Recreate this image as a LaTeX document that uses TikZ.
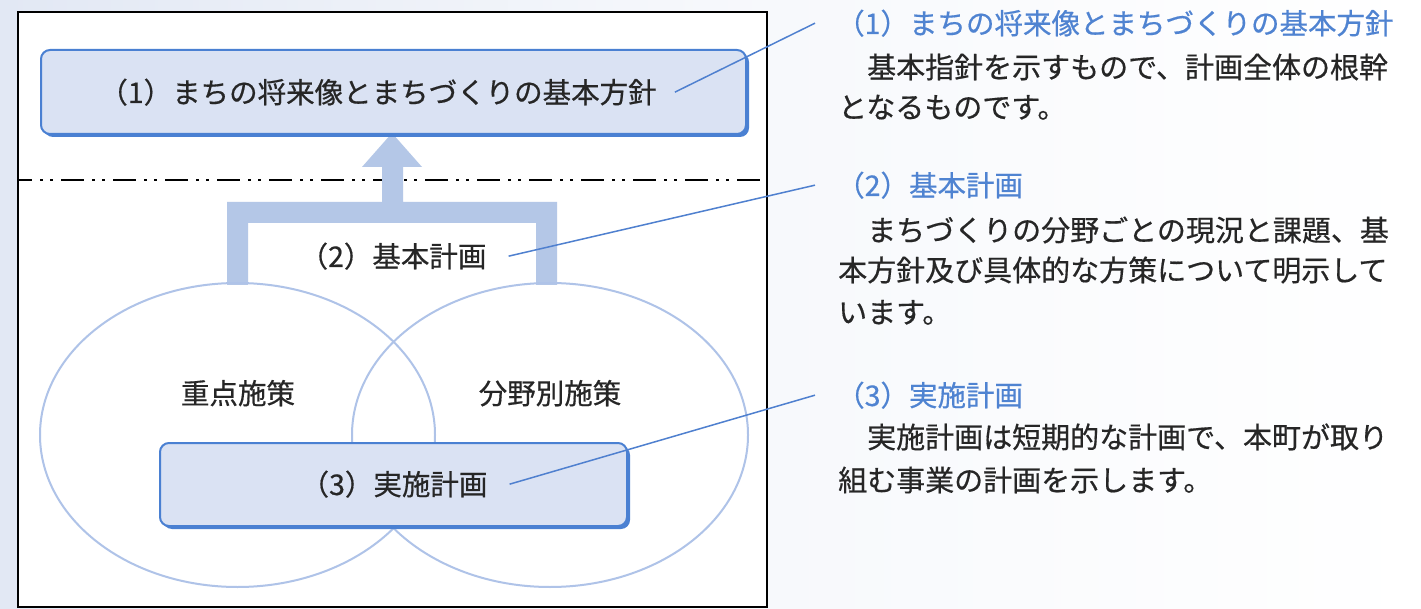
\documentclass[tikz,border=0pt]{standalone}
\usepackage{fontspec}
\setmainfont{Noto Sans CJK JP}[FakeBold=0.5]
\definecolor{bgtint}{HTML}{E2E8F4}
\definecolor{txtgray}{HTML}{262626}
\definecolor{titleblue}{HTML}{4F83D1}
\definecolor{leadblue}{HTML}{4F80CF}
\definecolor{boxedge}{HTML}{4A80D2}
\definecolor{boxfill}{HTML}{DAE2F3}
\definecolor{arrowblue}{HTML}{B4C7E7}
\definecolor{ellcol}{HTML}{AFC3E8}
\begin{document}
\begin{tikzpicture}[x=1pt,y=-1pt,
  txt/.style={inner sep=0pt, font=\fontsize{28.5}{34}\selectfont, text=txtgray},
  bodytxt/.style={txt, font=\fontsize{29}{34}\selectfont, anchor=base west},
  titletxt/.style={txt, text=titleblue, anchor=base west},
  leader/.style={draw=leadblue, line width=1.5pt},
  boxshadow/.style={fill=boxedge, rounded corners=9pt, inner sep=0pt},
  boxmain/.style={fill=boxfill, draw=boxedge, line width=2pt, rounded corners=9pt, inner sep=0pt},
  ellipsecurve/.style={draw=ellcol, line width=2pt}
]
\useasboundingbox (0,0) rectangle (1421,609);
% background
\shade[left color=bgtint, right color=white, middle color=white!70!bgtint] (0,0) rectangle (1421,609);
\fill[white] (18,12) rectangle (767,607);
% frame
\draw[line width=2.5pt] (18,12) rectangle (767,607);
% dash-dot separator
\coordinate (sepl) at (19,180);
\coordinate (sepr) at (767,180);
\draw[black, line width=2pt, dash pattern=on 23pt off 8pt on 3pt off 7pt on 3pt off 8pt, dash phase=10pt] (sepl) -- (sepr);
% arrow / bracket
\fill[arrowblue] (392,133) -- (422,167) -- (403,167) -- (403,202) -- (557,202) -- (557,285)
  -- (536,285) -- (536,223) -- (248,223) -- (248,285) -- (227,285) -- (227,202)
  -- (382,202) -- (382,167) -- (362,167) -- cycle;
% box 1
\node[boxshadow, minimum width=705pt, minimum height=84pt] (b1s) at (396.5,95) {};
\node[boxmain, minimum width=705pt, minimum height=84pt] (b1) at (393.5,92) {};
\node[txt, anchor=base] (t1) at (378,103) {（1）まちの将来像とまちづくりの基本方針};
% label 2
\node[txt, anchor=base] (t2) at (393,267) {（2）基本計画};
% ellipses
\draw[ellipsecurve] (237.5,435) ellipse [x radius=197.5pt, y radius=152pt];
\draw[ellipsecurve] (550,435) ellipse [x radius=198pt, y radius=152pt];
\node[txt, anchor=base] (e1) at (238,404) {重点施策};
\node[txt, anchor=base] (e2) at (550,404) {分野別施策};
% box 3
\node[boxshadow, minimum width=467pt, minimum height=83pt] (b3s) at (396.5,487.5) {};
\node[boxmain, minimum width=467pt, minimum height=83pt] (b3) at (393.5,484.5) {};
\node[txt, anchor=base] (t3) at (394,495) {（3）実施計画};
% right column
\node[titletxt] (r1) at (836,34) {（1）まちの将来像とまちづくりの基本方針};
\node[bodytxt] (r1a) at (838,78) {　基本指針を示すもので、計画全体の根幹};
\node[bodytxt] (r1b) at (838,118) {となるものです。};
\node[titletxt] (r2) at (836,196) {（2）基本計画};
\node[bodytxt] (r2a) at (838,241) {　まちづくりの分野ごとの現況と課題、基};
\node[bodytxt] (r2b) at (838,281) {本方針及び具体的な方策について明示して};
\node[bodytxt] (r2c) at (838,323) {います。};
\node[titletxt] (r3) at (836,406) {（3）実施計画};
\node[bodytxt] (r3a) at (838,448) {　実施計画は短期的な計画で、本町が取り};
\node[bodytxt] (r3b) at (838,491) {組む事業の計画を示します。};
% leaders
\draw[leader] ([xshift=18pt]t1.east) -- ([xshift=-21pt]r1.west);
\draw[leader] ([xshift=22pt]t2.east) -- ([xshift=-21pt]r2.west);
\draw[leader] ([xshift=22pt]t3.east) -- ([xshift=-21pt]r3.west);
\end{tikzpicture}
\end{document}
